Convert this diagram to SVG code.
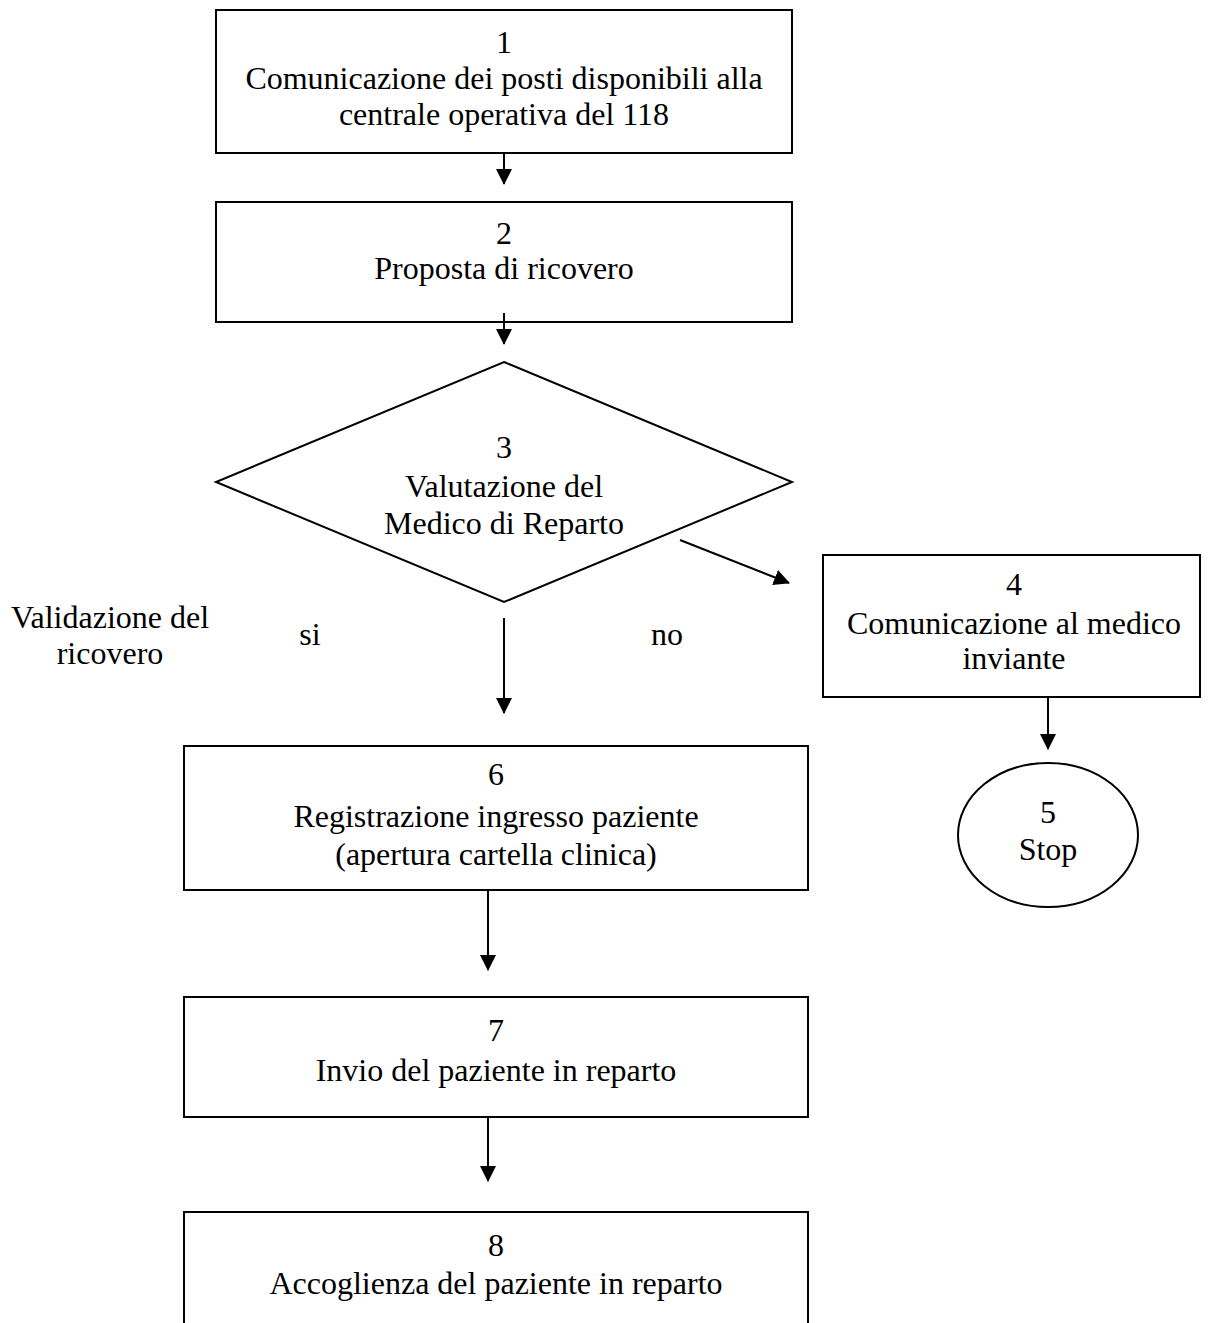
<svg xmlns="http://www.w3.org/2000/svg" width="1213" height="1323" viewBox="0 0 1213 1323">
<style>
.n{fill:#fff;stroke:#000;stroke-width:2}
text{font-family:"Liberation Serif","Times New Roman",serif;font-size:32px;fill:#000;text-anchor:middle}
.c line{stroke:#000;stroke-width:2}
</style>
<defs>
<marker id="a" markerWidth="8" markerHeight="8" refX="7.5" refY="4" orient="auto" markerUnits="strokeWidth"><path d="M0,0 L8,4 L0,8 Z" fill="#000"/></marker>
</defs>
<rect width="1213" height="1323" fill="#fff"/>
<g id="n1"><rect class="n" x="216" y="10" width="576" height="143"/><text x="504" y="53">1</text><text x="504" y="89">Comunicazione dei posti disponibili alla</text><text x="504" y="125">centrale operativa del 118</text></g>
<g id="n2"><rect class="n" x="216" y="202" width="576" height="120"/><text x="504" y="244">2</text><text x="504" y="279">Proposta di ricovero</text></g>
<g id="n3"><polygon class="n" points="504,362 792,482 504,602 216,482"/><text x="504" y="458">3</text><text x="504" y="497">Valutazione del</text><text x="504" y="534">Medico di Reparto</text></g>
<g id="n4"><rect class="n" x="823" y="555" width="377" height="142"/><text x="1014" y="595">4</text><text x="1014" y="634">Comunicazione al medico</text><text x="1014" y="669">inviante</text></g>
<g id="n5"><ellipse class="n" cx="1048" cy="835" rx="90" ry="72"/><text x="1048" y="823">5</text><text x="1048" y="860">Stop</text></g>
<g id="n6"><rect class="n" x="184" y="746" width="624" height="144"/><text x="496" y="785">6</text><text x="496" y="827">Registrazione ingresso paziente</text><text x="496" y="865">(apertura cartella clinica)</text></g>
<g id="n7"><rect class="n" x="184" y="997" width="624" height="120"/><text x="496" y="1041">7</text><text x="496" y="1081">Invio del paziente in reparto</text></g>
<g id="n8"><rect class="n" x="184" y="1212" width="624" height="130"/><text x="496" y="1256">8</text><text x="496" y="1294">Accoglienza del paziente in reparto</text></g>
<g id="labels"><text x="110" y="628">Validazione del</text><text x="110" y="664">ricovero</text><text x="310" y="645">si</text><text x="667" y="645">no</text></g>
<g class="c" id="connectors">
<line x1="504" y1="153" x2="504" y2="184" marker-end="url(#a)"/>
<line x1="504" y1="313" x2="504" y2="344" marker-end="url(#a)"/>
<line x1="680" y1="540" x2="789" y2="583" marker-end="url(#a)"/>
<line x1="504" y1="618" x2="504" y2="713" marker-end="url(#a)"/>
<line x1="1048" y1="697" x2="1048" y2="749" marker-end="url(#a)"/>
<line x1="488" y1="890" x2="488" y2="970" marker-end="url(#a)"/>
<line x1="488" y1="1117" x2="488" y2="1181" marker-end="url(#a)"/>
</g>
</svg>
